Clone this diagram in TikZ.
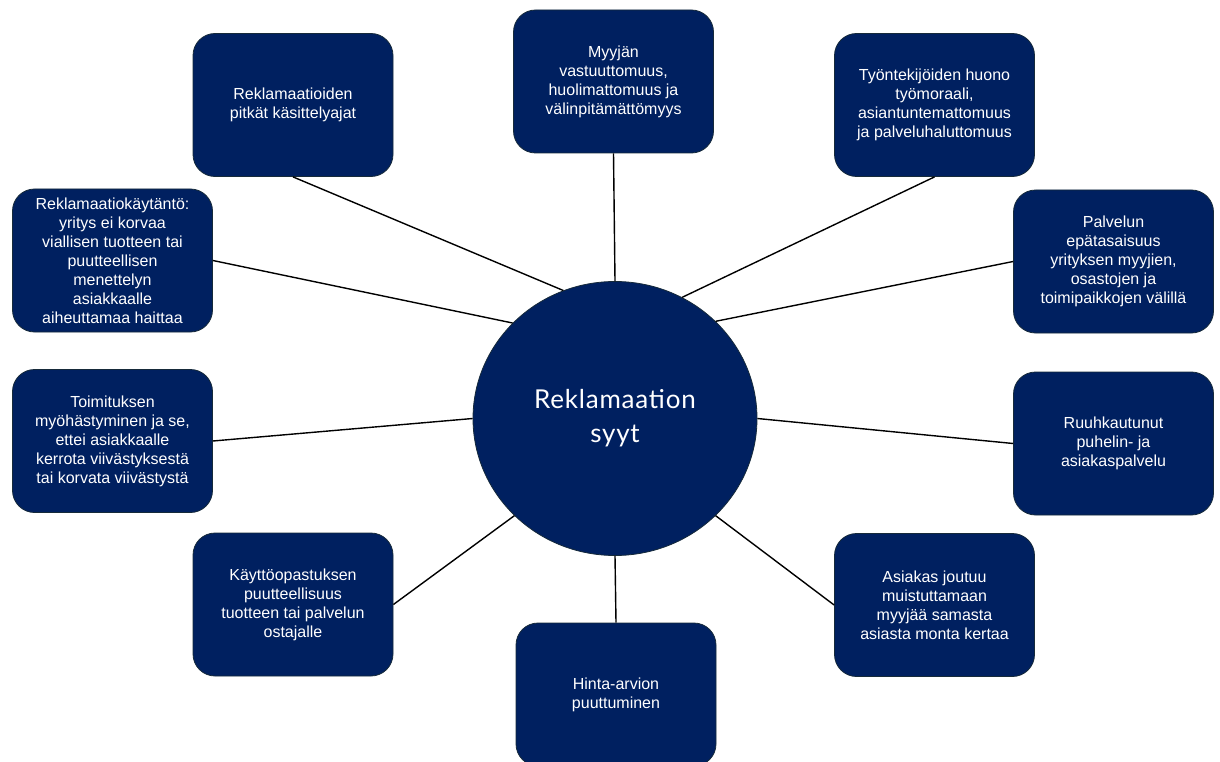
\documentclass[tikz,border=0pt]{standalone}
\usepackage{fontspec}
\setmainfont{Liberation Sans}
\newfontfamily\titlefont[LetterSpace=3]{Lato}
\usetikzlibrary{shapes.geometric}
\definecolor{navy}{RGB}{0,32,96}
\definecolor{rim}{RGB}{22,42,58}
\begin{document}
\begin{tikzpicture}[x=1pt,y=-1pt,
  cause/.style={rectangle, rounded corners=22pt, fill=navy, draw=rim, line width=0.8pt,
    minimum width=200pt, minimum height=143pt, inner sep=0pt, text=white, align=center,
    font=\fontsize{16}{19}\selectfont},
  hub/.style={ellipse, fill=navy, draw=rim, line width=0.8pt, minimum width=284pt,
    minimum height=274pt, inner sep=0pt, text=white, align=center,
    font=\titlefont\fontsize{26}{34}\selectfont},
  link/.style={draw=black, line width=1.4pt}]
\useasboundingbox (0,0) rectangle (1220,762);

% central topic
\node[hub] (c) at (615,418.5) {Reklamaation\\syyt};

% causes around it
\node[cause] (n1) at (613.5,81.5) {Myyjän\\vastuuttomuus,\\huolimattomuus ja\\välinpitämättömyys};
\node[cause] (n2) at (293,105) {Reklamaatioiden\\pitkät käsittelyajat};
\node[cause] (n3) at (934.5,105) {Työntekijöiden huono\\työmoraali,\\asiantuntemattomuus\\ja palveluhaluttomuus};
\node[cause] (n4) at (112.5,260.5) {Reklamaatiokäytäntö:\\yritys ei korvaa\\viallisen tuotteen tai\\puutteellisen\\menettelyn\\asiakkaalle\\aiheuttamaa haittaa};
\node[cause] (n5) at (1113.5,261.5) {Palvelun\\epätasaisuus\\yrityksen myyjien,\\osastojen ja\\toimipaikkojen välillä};
\node[cause] (n6) at (112.5,441) {Toimituksen\\myöhästyminen ja se,\\ettei asiakkaalle\\kerrota viivästyksestä\\tai korvata viivästystä};
\node[cause] (n7) at (1113.5,443.5) {Ruuhkautunut\\puhelin- ja\\asiakaspalvelu};
\node[cause] (n8) at (293,604.5) {Käyttöopastuksen\\puutteellisuus\\tuotteen tai palvelun\\ostajalle};
\node[cause] (n9) at (934.5,605) {Asiakas joutuu\\muistuttamaan\\myyjää samasta\\asiasta monta kertaa};
\node[cause] (n10) at (616,694.5) {Hinta-arvion\\puuttuminen};

% spokes
\draw[link] (c.90)  -- (n1.south);
\draw[link] (c.112) -- (n2.south);
\draw[link] (c.61)  -- (n3.south);
\draw[link] (c.137) -- (n4.east);
\draw[link] (c.44)  -- (n5.west);
\draw[link] (c.180) -- (n6.east);
\draw[link] (c.0)   -- (n7.west);
\draw[link] (c.224) -- (n8.east);
\draw[link] (c.316) -- (n9.west);
\draw[link] (c.270) -- (n10.north);
\end{tikzpicture}
\end{document}
